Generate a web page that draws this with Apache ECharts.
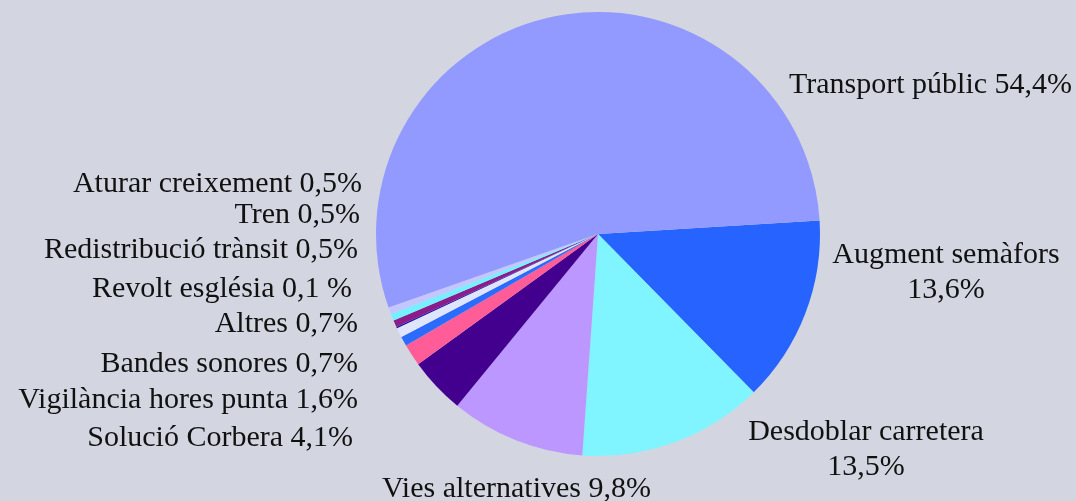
<!DOCTYPE html>
<html>
<head>
<meta charset="utf-8">
<script src="https://cdn.jsdelivr.net/npm/echarts@6/dist/echarts.min.js"></script>
<style>
    html, body { margin: 0; padding: 0; background: #d3d6e1; }
    #main { width: 1076px; height: 501px; }
</style>
</head>
<body>
<div id="main"></div>
<script>
// dades del gràfic (ordre horari des de les 3 en punt)
const categories = ['Augment semàfors', 'Desdoblar carretera', 'Vies alternatives', 'Solució Corbera',
    'Vigilància hores punta', 'Bandes sonores', 'Altres', 'Revolt església', 'Redistribució trànsit',
    'Tren', 'Aturar creixement', 'Transport públic']
const values = [13.6, 13.5, 9.8, 4.1, 1.6, 0.7, 0.7, 0.1, 0.5, 0.5, 0.5, 54.4]
const labelTexts = ['Augment semàfors\n13,6%', 'Desdoblar carretera\n13,5%', 'Vies alternatives 9,8%',
    'Solució Corbera 4,1%', 'Vigilància hores punta 1,6%', 'Bandes sonores 0,7%', 'Altres 0,7%',
    'Revolt església 0,1 %', 'Redistribució trànsit 0,5%', 'Tren 0,5%', 'Aturar creixement 0,5%',
    'Transport públic 54,4%']
const colors = ['#2663ff', '#80f5ff', '#bb97ff', '#43008e', '#ff5c98', '#2b6cff', '#dfe5ff',
    '#1410aa', '#8b1d8a', '#74f0ff', '#c4c7ff', '#939aff']

// on va cada etiqueta (x, y, alineació)
const labelPos = [
    { x: 946, y: 273, align: 'center' },
    { x: 866, y: 450, align: 'center' },
    { x: 382, y: 489, align: 'left' },
    { x: 353, y: 438, align: 'right' },
    { x: 358, y: 400, align: 'right' },
    { x: 358, y: 364, align: 'right' },
    { x: 358, y: 324, align: 'right' },
    { x: 352, y: 289, align: 'right' },
    { x: 358, y: 250, align: 'right' },
    { x: 360, y: 215, align: 'right' },
    { x: 362, y: 184, align: 'right' },
    { x: 789, y: 85, align: 'left' }
]

const myChart = echarts.init(document.getElementById('main'))
const option = {
    backgroundColor: '#d3d6e1',
    animation: false,
    series: [{
        type: 'pie',
        center: [598, 234],
        radius: 222,
        startAngle: 3.5,
        clockwise: true,
        avoidLabelOverlap: false,
        silent: true,
        itemStyle: { borderWidth: 0 },
        labelLine: { show: false },
        label: {
            show: true,
            position: 'outside',
            fontFamily: 'Liberation Serif',
            fontSize: 30,
            lineHeight: 35,
            color: '#111',
            formatter: (p) => labelTexts[p.dataIndex]
        },
        labelLayout: (p) => {
            const pos = labelPos[p.dataIndex]
            return { x: pos.x, y: pos.y, align: pos.align, verticalAlign: 'middle' }
        },
        data: categories.map((name, i) => {
            return { name: name, value: values[i], itemStyle: { color: colors[i] } }
        })
    }]
}
myChart.setOption(option)
</script>
</body>
</html>
